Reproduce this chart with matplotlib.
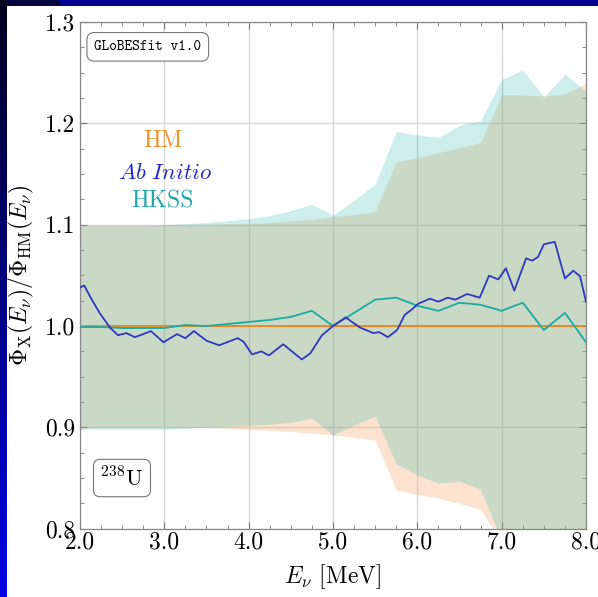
import numpy as np
import matplotlib
matplotlib.use('Agg')
import matplotlib.pyplot as plt
from matplotlib.ticker import MultipleLocator, FormatStrFormatter

plt.rcParams['font.family'] = 'serif'
plt.rcParams['font.serif'] = ['cmr10']
plt.rcParams['mathtext.fontset'] = 'cm'
plt.rcParams['axes.formatter.use_mathtext'] = True

# band grid (MeV)
E_grid = [2.0, 2.25, 2.5, 2.75, 3.0, 3.25, 3.5, 3.75, 4.0, 4.25, 4.5, 4.75, 5.0,
          5.25, 5.5, 5.75, 6.0, 6.25, 6.5, 6.75, 7.0, 7.25, 7.5, 7.75, 8.0]

hm_up = [1.100, 1.100, 1.100, 1.100, 1.100, 1.100, 1.100, 1.101, 1.101, 1.102, 1.104, 1.105, 1.108,
         1.110, 1.113, 1.162, 1.166, 1.171, 1.176, 1.181, 1.228, 1.228, 1.227, 1.229, 1.2395]
hm_lo = [0.900, 0.900, 0.900, 0.900, 0.900, 0.900, 0.900, 0.899, 0.898, 0.897, 0.896, 0.894, 0.8925,
         0.890, 0.8875, 0.838, 0.834, 0.830, 0.825, 0.819, 0.787, 0.780, 0.780, 0.780, 0.780]

hkss_up = [1.099, 1.099, 1.099, 1.099, 1.100, 1.101, 1.102, 1.104, 1.106, 1.109, 1.114, 1.120, 1.1096,
           1.124, 1.140, 1.192, 1.1885, 1.186, 1.198, 1.2026, 1.2435, 1.2526, 1.2263, 1.2487, 1.2312]
hkss_lo = [0.898, 0.898, 0.898, 0.898, 0.898, 0.899, 0.900, 0.901, 0.902, 0.903, 0.905, 0.909, 0.8925,
           0.9023, 0.9112, 0.8638, 0.853, 0.8448, 0.847, 0.839, 0.788, 0.770, 0.770, 0.770, 0.770]

hkss_ratio = [0.999, 0.999, 0.998, 0.998, 0.998, 1.001, 1.000, 1.002, 1.004, 1.006, 1.009, 1.015, 1.000,
              1.013, 1.026, 1.028, 1.020, 1.015, 1.023, 1.021, 1.015, 1.023, 0.996, 1.013, 0.984]

hm_E = [2.0, 8.0]
hm_ratio = [1.0, 1.0]

# ab initio curve
ab_E = [2.00, 2.05, 2.14, 2.24, 2.36, 2.45, 2.55, 2.65, 2.75, 2.84, 2.99, 3.15, 3.25, 3.35, 3.50,
        3.65, 3.87, 3.94, 4.04, 4.15, 4.24, 4.41, 4.63, 4.73, 4.87, 5.00, 5.15, 5.32, 5.48, 5.55,
        5.65, 5.76, 5.85, 5.93, 6.01, 6.15, 6.25, 6.36, 6.45, 6.59, 6.74, 6.85, 6.96, 7.05, 7.15,
        7.29, 7.36, 7.43, 7.50, 7.57, 7.63, 7.75, 7.85, 7.93, 8.00]
ab_ratio = [1.038, 1.040, 1.026, 1.012, 0.998, 0.991, 0.993, 0.989, 0.992, 0.995, 0.984, 0.992, 0.988,
            0.995, 0.9855, 0.981, 0.988, 0.9845, 0.972, 0.975, 0.971, 0.982, 0.967, 0.973, 0.991,
            1.000, 1.0085, 0.9985, 0.993, 0.994, 0.989, 0.996, 1.011, 1.016, 1.022, 1.027, 1.024,
            1.028, 1.026, 1.0316, 1.028, 1.0497, 1.046, 1.057, 1.035, 1.0668, 1.0645, 1.068,
            1.0806, 1.082, 1.083, 1.047, 1.0546, 1.049, 1.024]

W, H = 598, 597
fig = plt.figure(figsize=(W / 100, H / 100), dpi=100)

# slide-like blue frame
bg = np.ones((H, W, 3))
bg[:6, :, :] = [0.0, 0.0, 0.58]
bg[:6, :60, :] = [0.02, 0.02, 0.25]
grad = np.linspace(0.12, 0.9, H)
bg[:, :7, 0] = 0.0
bg[:, :7, 1] = 0.0
bg[:, :7, 2] = grad[:, None]
bga = fig.add_axes([0, 0, 1, 1], zorder=-10)
bga.imshow(bg, aspect='auto', interpolation='nearest')
bga.axis('off')

ax = fig.add_axes([80 / W, (H - 528.7) / H, 506 / W, 506.7 / H])
ax.set_facecolor('none')

ax.fill_between(E_grid, hm_lo, hm_up, color='sandybrown', alpha=0.3, lw=0, zorder=1)
ax.fill_between(E_grid, hkss_lo, hkss_up, color='lightseagreen', alpha=0.22, lw=0, zorder=1.1)

ax.plot(hm_E, hm_ratio, color='#e5871a', lw=1.3, zorder=3)
ax.plot(ab_E, ab_ratio, color='#3038c0', lw=1.3, zorder=4)
ax.plot(E_grid, hkss_ratio, color='#1aaba3', lw=1.3, zorder=3.5)

ax.set_xlim(2.0, 8.0)
ax.set_ylim(0.8, 1.3)
ax.xaxis.set_major_locator(MultipleLocator(1.0))
ax.xaxis.set_minor_locator(MultipleLocator(0.25))
ax.yaxis.set_major_locator(MultipleLocator(0.1))
ax.yaxis.set_minor_locator(MultipleLocator(0.025))
ax.xaxis.set_major_formatter(FormatStrFormatter('%.1f'))
ax.yaxis.set_major_formatter(FormatStrFormatter('%.1f'))
ax.tick_params(which='both', direction='in', top=True, right=True, color='#777777',
               labelsize=17)
ax.tick_params(which='major', length=5, width=0.8)
ax.tick_params(which='minor', length=3, width=0.6)
ax.tick_params(axis='x', pad=2)
ax.grid(True, which='major', color='#d8d8d8', lw=1.0, zorder=0)
ax.set_axisbelow(True)
for s in ax.spines.values():
    s.set_color('#888888')
    s.set_linewidth(0.9)

ax.set_xlabel(r'$E_\nu$ [MeV]', fontsize=17, labelpad=6)
ax.set_ylabel(r'$\Phi_{\rm X}(E_\nu)/\Phi_{\rm HM}(E_\nu)$', fontsize=17, labelpad=6)

ax.text(0.134, 0.951, 'GLoBESfit v1.0', transform=ax.transAxes, ha='center', va='center',
        family='cmtt10', fontsize=10.5,
        bbox=dict(boxstyle='round,pad=0.5', fc='white', ec='#777777', lw=0.8))
ax.text(0.083, 0.100, r'$^{238}$U', transform=ax.transAxes, ha='center', va='center',
        fontsize=16,
        bbox=dict(boxstyle='round,pad=0.3', fc='white', ec='#777777', lw=0.8))

ax.text(0.164, 0.765, 'HM', transform=ax.transAxes, ha='center', va='center',
        fontsize=17, color='#f0922b')
ax.text(0.168, 0.702, r'$\mathit{Ab\ Initio}$', transform=ax.transAxes, ha='center', va='center',
        fontsize=16.5, color='#2222d0')
ax.text(0.164, 0.645, 'HKSS', transform=ax.transAxes, ha='center', va='center',
        fontsize=17, color='#20aaa5')

fig.savefig('out.png', dpi=100)
